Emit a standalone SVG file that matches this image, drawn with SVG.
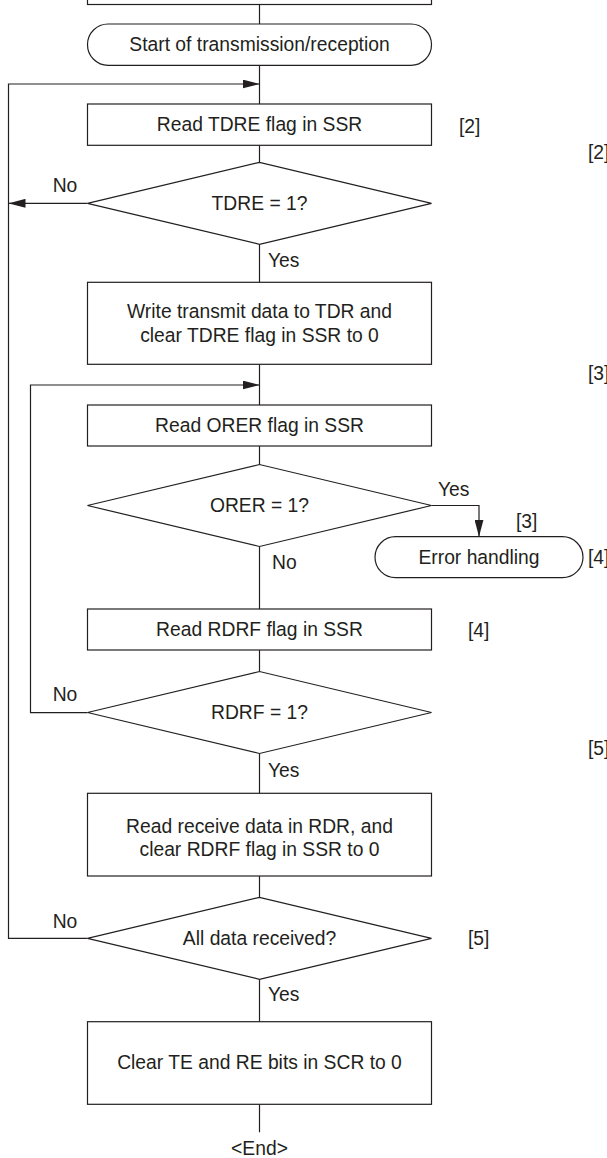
<svg xmlns="http://www.w3.org/2000/svg" width="607" height="1158" viewBox="0 0 607 1158">
<defs>
<marker id="ah" markerUnits="userSpaceOnUse" markerWidth="17" markerHeight="9" refX="17" refY="4.5" orient="auto"><path d="M0,0 L17,4.5 L0,9 z" fill="#231f20"/></marker>
</defs>
<style>
.s{fill:#fff;stroke:#231f20;stroke-width:1.2}
.c{fill:none;stroke:#231f20;stroke-width:1.2}
text{font-family:"Liberation Sans",Arial,sans-serif;font-size:19.3px;fill:#231f20}
.m{text-anchor:middle;dominant-baseline:central}
.l{dominant-baseline:central}
</style>
<rect width="607" height="1158" fill="#fff"/>
<g id="connectors">
<path class="c" d="M259.5,4.5 V24"/>
<path class="c" d="M259.5,65.3 V104"/>
<path class="c" d="M87.5,938.3 H8.5 V84 H259.5" marker-end="url(#ah)"/>
<path class="c" d="M87.5,203.3 H8.5" marker-end="url(#ah)"/>
<path class="c" d="M259.5,145.3 V162.3"/>
<path class="c" d="M259.5,244.3 V282.3"/>
<path class="c" d="M259.5,364.3 V405"/>
<path class="c" d="M87.5,712.7 H30.5 V385 H259.5" marker-end="url(#ah)"/>
<path class="c" d="M259.5,446 V464.5"/>
<path class="c" d="M431.5,505.5 H479 V536.7" marker-end="url(#ah)"/>
<path class="c" d="M259.5,546.5 V609"/>
<path class="c" d="M259.5,650 V671.5"/>
<path class="c" d="M259.5,753.5 V793.3"/>
<path class="c" d="M259.5,876 V897"/>
<path class="c" d="M259.5,979.3 V1021.7"/>
<path class="c" d="M259.5,1104.3 V1132.3"/>
</g>
<g id="labels">
<text class="m" x="65" y="185">No</text>
<text class="l" x="268" y="260">Yes</text>
<text class="l" x="438" y="489">Yes</text>
<text class="l" x="272" y="562">No</text>
<text class="m" x="65" y="694">No</text>
<text class="l" x="268" y="770">Yes</text>
<text class="m" x="65" y="921.7">No</text>
<text class="l" x="268" y="994.3">Yes</text>
<text class="l" x="459" y="126">[2]</text>
<text class="l" x="516" y="521">[3]</text>
<text class="l" x="468" y="630">[4]</text>
<text class="l" x="468" y="938.3">[5]</text>
<text class="l" x="588" y="152">[2]</text>
<text class="l" x="588" y="373.3">[3]</text>
<text class="l" x="588" y="557">[4]</text>
<text class="l" x="588" y="748.3">[5]</text>
</g>
<g id="n-prev"><rect class="s" x="87.5" y="-40" width="344" height="44.5"/></g>
<g id="n-start"><rect class="s" x="87.5" y="24" width="344" height="41.3" rx="20.6"/><text class="m" x="259.5" y="44.7">Start of transmission/reception</text></g>
<g id="n-readTDRE"><rect class="s" x="87.5" y="104" width="344" height="41.3"/><text class="m" x="259.5" y="124.7">Read TDRE flag in SSR</text></g>
<g id="n-TDRE"><path class="s" d="M87.5,203.3 L259.5,162.3 L431.5,203.3 L259.5,244.3 z"/><text class="m" x="259.5" y="203.3">TDRE = 1?</text></g>
<g id="n-write"><rect class="s" x="87.5" y="282.3" width="344" height="82"/><text class="m" x="259.5" y="311.7">Write transmit data to TDR and</text><text class="m" x="259.5" y="335">clear TDRE flag in SSR to 0</text></g>
<g id="n-readORER"><rect class="s" x="87.5" y="405" width="344" height="41"/><text class="m" x="259.5" y="425.5">Read ORER flag in SSR</text></g>
<g id="n-ORER"><path class="s" d="M87.5,505.5 L259.5,464.5 L431.5,505.5 L259.5,546.5 z"/><text class="m" x="259.5" y="505.5">ORER = 1?</text></g>
<g id="n-error"><rect class="s" x="375" y="536.7" width="208" height="41" rx="20.5"/><text class="m" x="479" y="557.2">Error handling</text></g>
<g id="n-readRDRF"><rect class="s" x="87.5" y="609" width="344" height="41"/><text class="m" x="259.5" y="629.5">Read RDRF flag in SSR</text></g>
<g id="n-RDRF"><path class="s" d="M87.5,712.5 L259.5,671.5 L431.5,712.5 L259.5,753.5 z"/><text class="m" x="259.5" y="712.5">RDRF = 1?</text></g>
<g id="n-receive"><rect class="s" x="87.5" y="793.3" width="344" height="82.7"/><text class="m" x="259.5" y="826">Read receive data in RDR, and</text><text class="m" x="259.5" y="849.3">clear RDRF flag in SSR to 0</text></g>
<g id="n-all"><path class="s" d="M87.5,938.3 L259.5,897.3 L431.5,938.3 L259.5,979.3 z"/><text class="m" x="259.5" y="938.3">All data received?</text></g>
<g id="n-clear"><rect class="s" x="87.5" y="1021.7" width="344" height="82.6"/><text class="m" x="259.5" y="1062.7">Clear TE and RE bits in SCR to 0</text></g>
<g id="n-end"><text class="m" x="259.5" y="1148.7">&lt;End&gt;</text></g>
</svg>
